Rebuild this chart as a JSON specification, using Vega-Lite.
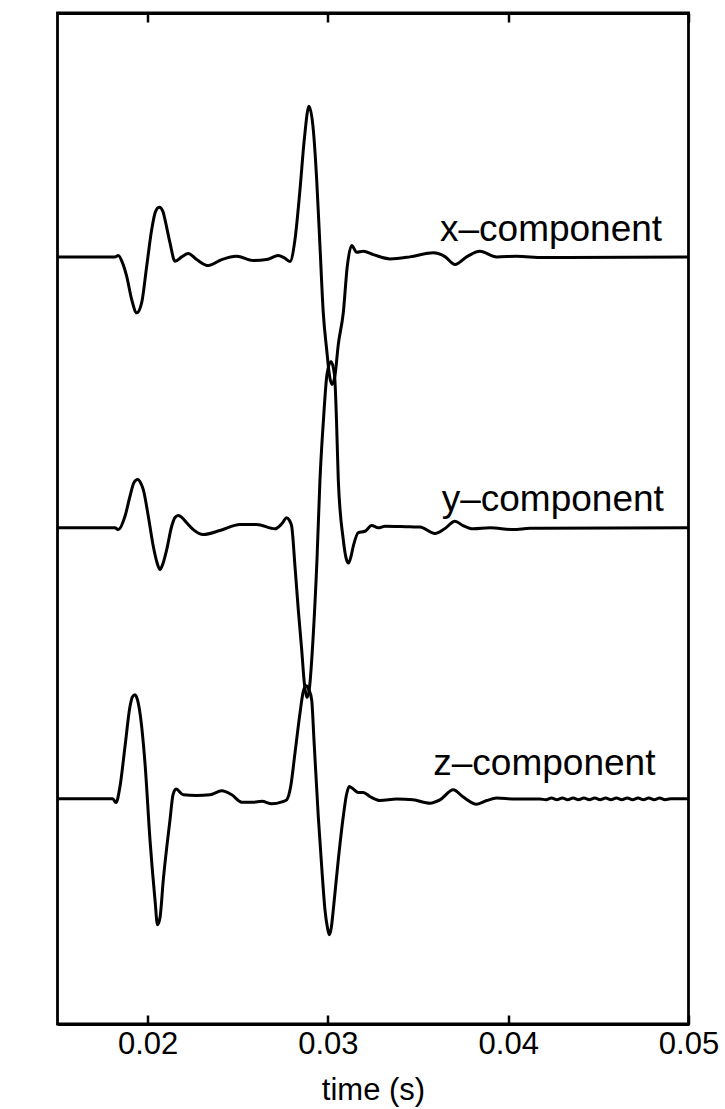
{
  "$schema": "https://vega.github.io/schema/vega-lite/v6.json",
  "width": 631,
  "height": 1011,
  "autosize": {"type": "none"},
  "padding": {"left": 57.5, "top": 13, "right": 36.5, "bottom": 85},
  "background": "white",
  "config": {
    "view": {"stroke": "black", "strokeWidth": 2.8},
    "font": "Liberation Sans",
    "axis": {"grid": false, "domainColor": "black", "domainWidth": 2.8, "tickColor": "black", "tickWidth": 2.5, "labelColor": "black", "titleColor": "black", "labelFont": "Liberation Sans", "titleFont": "Liberation Sans", "titleFontWeight": "normal"}
  },
  "datasets": {
    "traces": [
      {"c": "x", "t": 0.015, "v": 2.0},
      {"c": "x", "t": 0.018189, "v": 2.0},
      {"c": "x", "t": 0.018372, "v": 2.0048},
      {"c": "x", "t": 0.018577, "v": 1.9827},
      {"c": "x", "t": 0.018838, "v": 1.9284},
      {"c": "x", "t": 0.019115, "v": 1.8424},
      {"c": "x", "t": 0.019393, "v": 1.7934},
      {"c": "x", "t": 0.01967, "v": 1.8314},
      {"c": "x", "t": 0.019947, "v": 1.9653},
      {"c": "x", "t": 0.020225, "v": 2.1007},
      {"c": "x", "t": 0.020435, "v": 2.1672},
      {"c": "x", "t": 0.020646, "v": 2.183},
      {"c": "x", "t": 0.020851, "v": 2.1672},
      {"c": "x", "t": 0.020962, "v": 2.1376},
      {"c": "x", "t": 0.02124, "v": 2.0517},
      {"c": "x", "t": 0.021517, "v": 1.9838},
      {"c": "x", "t": 0.021889, "v": 2.0},
      {"c": "x", "t": 0.022255, "v": 2.0122},
      {"c": "x", "t": 0.02272, "v": 1.99},
      {"c": "x", "t": 0.023364, "v": 1.9679},
      {"c": "x", "t": 0.024107, "v": 1.99},
      {"c": "x", "t": 0.024939, "v": 2.0022},
      {"c": "x", "t": 0.02586, "v": 1.9863},
      {"c": "x", "t": 0.026603, "v": 1.99},
      {"c": "x", "t": 0.027246, "v": 2.0048},
      {"c": "x", "t": 0.027562, "v": 1.9974},
      {"c": "x", "t": 0.027895, "v": 1.983},
      {"c": "x", "t": 0.028172, "v": 2.0638},
      {"c": "x", "t": 0.02845, "v": 2.2483},
      {"c": "x", "t": 0.028688, "v": 2.4328},
      {"c": "x", "t": 0.028949, "v": 2.5557},
      {"c": "x", "t": 0.029188, "v": 2.4697},
      {"c": "x", "t": 0.029376, "v": 2.2852},
      {"c": "x", "t": 0.029559, "v": 2.0391},
      {"c": "x", "t": 0.029742, "v": 1.7934},
      {"c": "x", "t": 0.029931, "v": 1.6579},
      {"c": "x", "t": 0.030086, "v": 1.562},
      {"c": "x", "t": 0.030225, "v": 1.5288},
      {"c": "x", "t": 0.030391, "v": 1.562},
      {"c": "x", "t": 0.030574, "v": 1.6764},
      {"c": "x", "t": 0.030851, "v": 1.7934},
      {"c": "x", "t": 0.031073, "v": 1.9653},
      {"c": "x", "t": 0.031317, "v": 2.0417},
      {"c": "x", "t": 0.031594, "v": 2.017},
      {"c": "x", "t": 0.031961, "v": 2.0207},
      {"c": "x", "t": 0.032515, "v": 2.0085},
      {"c": "x", "t": 0.033441, "v": 1.9926},
      {"c": "x", "t": 0.034551, "v": 2.0},
      {"c": "x", "t": 0.035843, "v": 2.0148},
      {"c": "x", "t": 0.036492, "v": 2.0011},
      {"c": "x", "t": 0.037047, "v": 1.9716},
      {"c": "x", "t": 0.037712, "v": 2.0011},
      {"c": "x", "t": 0.038433, "v": 2.0207},
      {"c": "x", "t": 0.039359, "v": 2.0},
      {"c": "x", "t": 0.040469, "v": 2.0022},
      {"c": "x", "t": 0.041944, "v": 1.9974},
      {"c": "x", "t": 0.05, "v": 2.0},

      {"c": "y", "t": 0.015, "v": 1.0},
      {"c": "y", "t": 0.018189, "v": 1.0},
      {"c": "y", "t": 0.018372, "v": 0.9937},
      {"c": "y", "t": 0.018744, "v": 1.0428},
      {"c": "y", "t": 0.019021, "v": 1.1166},
      {"c": "y", "t": 0.019243, "v": 1.1672},
      {"c": "y", "t": 0.019448, "v": 1.1782},
      {"c": "y", "t": 0.019631, "v": 1.1635},
      {"c": "y", "t": 0.019759, "v": 1.1413},
      {"c": "y", "t": 0.020036, "v": 1.0428},
      {"c": "y", "t": 0.020313, "v": 0.9321},
      {"c": "y", "t": 0.020519, "v": 0.872},
      {"c": "y", "t": 0.020685, "v": 0.8461},
      {"c": "y", "t": 0.020851, "v": 0.8683},
      {"c": "y", "t": 0.021057, "v": 0.9199},
      {"c": "y", "t": 0.021334, "v": 1.0059},
      {"c": "y", "t": 0.021517, "v": 1.038},
      {"c": "y", "t": 0.0217, "v": 1.0454},
      {"c": "y", "t": 0.021905, "v": 1.038},
      {"c": "y", "t": 0.022166, "v": 1.0185},
      {"c": "y", "t": 0.022532, "v": 0.9937},
      {"c": "y", "t": 0.023087, "v": 0.9753},
      {"c": "y", "t": 0.024013, "v": 0.99},
      {"c": "y", "t": 0.025122, "v": 1.0122},
      {"c": "y", "t": 0.026048, "v": 1.0122},
      {"c": "y", "t": 0.027063, "v": 0.9963},
      {"c": "y", "t": 0.027451, "v": 1.0159},
      {"c": "y", "t": 0.027712, "v": 1.0369},
      {"c": "y", "t": 0.027867, "v": 1.0269},
      {"c": "y", "t": 0.02799, "v": 1.0059},
      {"c": "y", "t": 0.028172, "v": 0.8583},
      {"c": "y", "t": 0.028355, "v": 0.6985},
      {"c": "y", "t": 0.028544, "v": 0.5509},
      {"c": "y", "t": 0.028699, "v": 0.4218},
      {"c": "y", "t": 0.028838, "v": 0.3738},
      {"c": "y", "t": 0.028977, "v": 0.4107},
      {"c": "y", "t": 0.029171, "v": 0.5878},
      {"c": "y", "t": 0.029393, "v": 0.883},
      {"c": "y", "t": 0.029559, "v": 1.1782},
      {"c": "y", "t": 0.029753, "v": 1.3996},
      {"c": "y", "t": 0.029947, "v": 1.5657},
      {"c": "y", "t": 0.030169, "v": 1.6137},
      {"c": "y", "t": 0.030363, "v": 1.5657},
      {"c": "y", "t": 0.030474, "v": 1.3996},
      {"c": "y", "t": 0.030574, "v": 1.1782},
      {"c": "y", "t": 0.030851, "v": 0.9568},
      {"c": "y", "t": 0.031001, "v": 0.8904},
      {"c": "y", "t": 0.03114, "v": 0.8701},
      {"c": "y", "t": 0.031278, "v": 0.8941},
      {"c": "y", "t": 0.031406, "v": 0.9321},
      {"c": "y", "t": 0.031683, "v": 0.9827},
      {"c": "y", "t": 0.032055, "v": 0.9875},
      {"c": "y", "t": 0.032427, "v": 1.0085},
      {"c": "y", "t": 0.032793, "v": 1.0},
      {"c": "y", "t": 0.033164, "v": 1.0059},
      {"c": "y", "t": 0.034551, "v": 1.0037},
      {"c": "y", "t": 0.035106, "v": 1.003},
      {"c": "y", "t": 0.035937, "v": 0.979},
      {"c": "y", "t": 0.036492, "v": 0.9974},
      {"c": "y", "t": 0.037047, "v": 1.0244},
      {"c": "y", "t": 0.03749, "v": 1.0085},
      {"c": "y", "t": 0.038062, "v": 0.9963},
      {"c": "y", "t": 0.038988, "v": 1.0},
      {"c": "y", "t": 0.04028, "v": 0.9937},
      {"c": "y", "t": 0.041206, "v": 0.9985},
      {"c": "y", "t": 0.05, "v": 1.0},

      {"c": "z", "t": 0.015, "v": 0.0},
      {"c": "z", "t": 0.018062, "v": 0.0},
      {"c": "z", "t": 0.018245, "v": -0.0137},
      {"c": "z", "t": 0.018466, "v": 0.0454},
      {"c": "z", "t": 0.018744, "v": 0.193},
      {"c": "z", "t": 0.019021, "v": 0.3406},
      {"c": "z", "t": 0.01916, "v": 0.3764},
      {"c": "z", "t": 0.019298, "v": 0.3838},
      {"c": "z", "t": 0.019437, "v": 0.3653},
      {"c": "z", "t": 0.019576, "v": 0.3162},
      {"c": "z", "t": 0.019853, "v": 0.1317},
      {"c": "z", "t": 0.02013, "v": -0.1513},
      {"c": "z", "t": 0.020408, "v": -0.3727},
      {"c": "z", "t": 0.020546, "v": -0.4649},
      {"c": "z", "t": 0.020685, "v": -0.4391},
      {"c": "z", "t": 0.020868, "v": -0.2989},
      {"c": "z", "t": 0.02124, "v": -0.0775},
      {"c": "z", "t": 0.021406, "v": 0.0148},
      {"c": "z", "t": 0.021572, "v": 0.0358},
      {"c": "z", "t": 0.021977, "v": 0.0148},
      {"c": "z", "t": 0.02272, "v": 0.0122},
      {"c": "z", "t": 0.023458, "v": 0.0148},
      {"c": "z", "t": 0.024107, "v": 0.0295},
      {"c": "z", "t": 0.024662, "v": 0.0148},
      {"c": "z", "t": 0.025216, "v": -0.0122},
      {"c": "z", "t": 0.02586, "v": -0.0122},
      {"c": "z", "t": 0.026342, "v": -0.0092},
      {"c": "z", "t": 0.02688, "v": -0.0185},
      {"c": "z", "t": 0.027451, "v": -0.0111},
      {"c": "z", "t": 0.027712, "v": -0.0037},
      {"c": "z", "t": 0.027934, "v": 0.0454},
      {"c": "z", "t": 0.028172, "v": 0.1686},
      {"c": "z", "t": 0.02845, "v": 0.3162},
      {"c": "z", "t": 0.028616, "v": 0.3911},
      {"c": "z", "t": 0.028783, "v": 0.417},
      {"c": "z", "t": 0.028949, "v": 0.4022},
      {"c": "z", "t": 0.029099, "v": 0.3653},
      {"c": "z", "t": 0.029226, "v": 0.2177},
      {"c": "z", "t": 0.029465, "v": -0.0653},
      {"c": "z", "t": 0.029653, "v": -0.2498},
      {"c": "z", "t": 0.029836, "v": -0.4096},
      {"c": "z", "t": 0.029975, "v": -0.476},
      {"c": "z", "t": 0.030075, "v": -0.5018},
      {"c": "z", "t": 0.030186, "v": -0.476},
      {"c": "z", "t": 0.030297, "v": -0.4096},
      {"c": "z", "t": 0.030574, "v": -0.2251},
      {"c": "z", "t": 0.030851, "v": -0.0653},
      {"c": "z", "t": 0.031029, "v": 0.0148},
      {"c": "z", "t": 0.031184, "v": 0.0454},
      {"c": "z", "t": 0.031389, "v": 0.0369},
      {"c": "z", "t": 0.031683, "v": 0.0232},
      {"c": "z", "t": 0.031961, "v": 0.0232},
      {"c": "z", "t": 0.032332, "v": 0.0085},
      {"c": "z", "t": 0.032887, "v": -0.0063},
      {"c": "z", "t": 0.033813, "v": -0.0011},
      {"c": "z", "t": 0.034717, "v": -0.0037},
      {"c": "z", "t": 0.03566, "v": -0.0159},
      {"c": "z", "t": 0.036215, "v": -0.0037},
      {"c": "z", "t": 0.036952, "v": 0.0332},
      {"c": "z", "t": 0.03749, "v": 0.0074},
      {"c": "z", "t": 0.03825, "v": -0.0196},
      {"c": "z", "t": 0.038805, "v": -0.0063},
      {"c": "z", "t": 0.039359, "v": 0.0026},
      {"c": "z", "t": 0.040374, "v": -0.0011},
      {"c": "z", "t": 0.041761, "v": -0.0011},
      {"c": "z", "t": 0.0421, "v": -0.003},
      {"c": "z", "t": 0.0424, "v": 0.003},
      {"c": "z", "t": 0.0427, "v": -0.003},
      {"c": "z", "t": 0.043, "v": 0.003},
      {"c": "z", "t": 0.0433, "v": -0.003},
      {"c": "z", "t": 0.0436, "v": 0.003},
      {"c": "z", "t": 0.0439, "v": -0.003},
      {"c": "z", "t": 0.0442, "v": 0.003},
      {"c": "z", "t": 0.0445, "v": -0.003},
      {"c": "z", "t": 0.0448, "v": 0.003},
      {"c": "z", "t": 0.0451, "v": -0.003},
      {"c": "z", "t": 0.0454, "v": 0.003},
      {"c": "z", "t": 0.0457, "v": -0.003},
      {"c": "z", "t": 0.046, "v": 0.003},
      {"c": "z", "t": 0.0463, "v": -0.003},
      {"c": "z", "t": 0.0466, "v": 0.003},
      {"c": "z", "t": 0.0469, "v": -0.003},
      {"c": "z", "t": 0.0472, "v": 0.003},
      {"c": "z", "t": 0.0475, "v": -0.003},
      {"c": "z", "t": 0.0478, "v": 0.003},
      {"c": "z", "t": 0.0481, "v": -0.003},
      {"c": "z", "t": 0.0484, "v": 0.003},
      {"c": "z", "t": 0.0487, "v": -0.003},
      {"c": "z", "t": 0.049, "v": 0.0},
      {"c": "z", "t": 0.05, "v": 0.0}
    ],
    "labels": [
      {"label": "x–component", "t": 0.036215, "v": 2.0576},
      {"label": "y–component", "t": 0.036309, "v": 1.0613},
      {"label": "z–component", "t": 0.035843, "v": 0.0886}
    ]
  },
  "layer": [
    {
      "data": {"name": "traces"},
      "mark": {"type": "line", "color": "black", "strokeWidth": 3, "interpolate": "monotone", "clip": true},
      "encoding": {
        "x": {"field": "t", "type": "quantitative", "scale": {"domain": [0.015, 0.05], "nice": false, "zero": false},
          "axis": {"orient": "bottom", "values": [0.02, 0.03, 0.04, 0.05], "format": ".2f", "title": "time (s)", "tickSize": -9, "labelFontSize": 31, "titleFontSize": 31, "labelPadding": 14, "titlePadding": 16, "labelBound": false, "labelOverlap": false, "labelFlush": false}},
        "y": {"field": "v", "type": "quantitative", "scale": {"domain": [-0.831, 2.9], "nice": false, "zero": false},
          "axis": {"orient": "left", "ticks": false, "labels": false, "title": "normalized amplitude", "titleFontSize": 31, "titlePadding": 14}},
        "detail": {"field": "c", "type": "nominal"}
      }
    },
    {
      "data": {"name": "labels"},
      "mark": {"type": "text", "align": "left", "baseline": "alphabetic", "fontSize": 37, "font": "Liberation Sans", "color": "black"},
      "encoding": {
        "x": {"field": "t", "type": "quantitative", "axis": null},
        "y": {"field": "v", "type": "quantitative", "axis": null},
        "text": {"field": "label"}
      }
    },
    {
      "data": {"name": "labels"},
      "mark": {"type": "rule", "opacity": 0},
      "encoding": {
        "x": {"field": "t", "type": "quantitative", "axis": {"orient": "top", "values": [0.02, 0.03, 0.04, 0.05], "labels": false, "title": null, "tickSize": -9, "domain": true}}
      }
    }
  ],
  "resolve": {"axis": {"x": "independent"}}
}
